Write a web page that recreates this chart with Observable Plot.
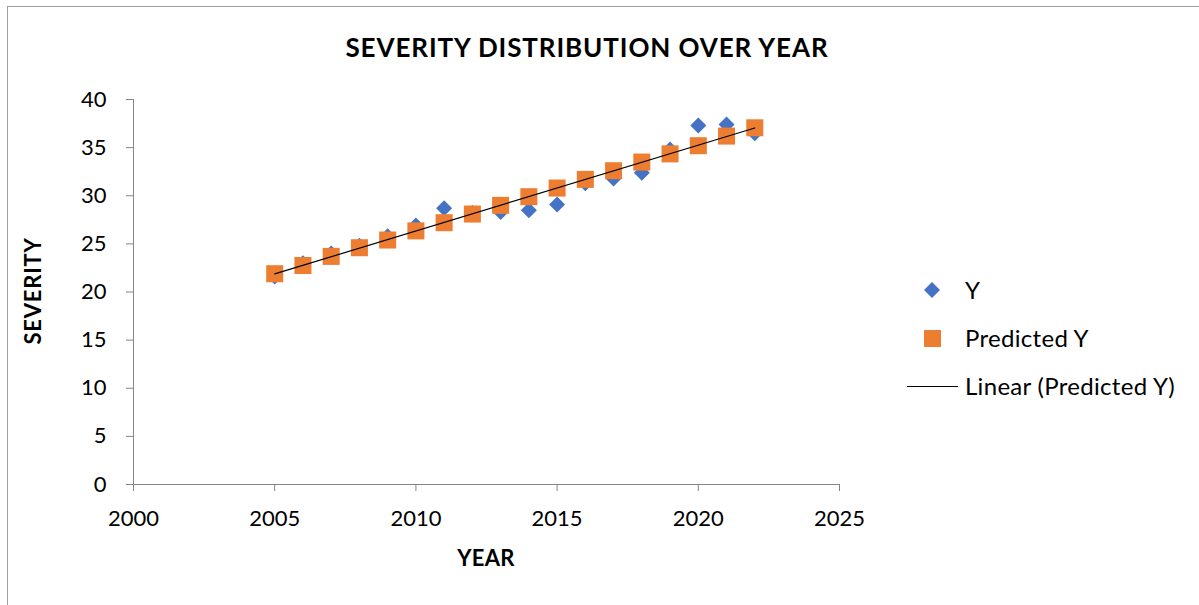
<!DOCTYPE html>
<html>
<head>
<meta charset="utf-8">
<script src="https://cdn.jsdelivr.net/npm/d3@7"></script>
<script src="https://cdn.jsdelivr.net/npm/@observablehq/plot@0.6"></script>
<style>
  html, body { margin: 0; padding: 0; background: #fff; }
  #wrap { position: relative; width: 1199px; height: 605px; overflow: hidden; font-family: Lato, "Open Sans", sans-serif; color: #000; }
  #frame { position: absolute; left: 7px; top: 6px; width: 1300px; height: 700px; border-left: 1px solid #a0a0a0; border-top: 1px solid #a0a0a0; }
  #chart { position: absolute; left: 0; top: 0; }
  .title { position: absolute; top: 30px; left: 133px; width: 908px; text-align: center; font-weight: bold; font-size: 26px; letter-spacing: 0.9px; line-height: 34px; }
  .xlab { position: absolute; top: 544px; left: 133px; width: 706px; text-align: center; font-weight: bold; font-size: 22px; letter-spacing: 0.3px; line-height: 28px; }
  .ylab { position: absolute; left: 33px; top: 291px; transform: translate(-50%, -50%) rotate(-90deg); font-weight: bold; font-size: 22px; letter-spacing: 0.8px; line-height: 28px; white-space: nowrap; }
  .leg { position: absolute; left: 905px; font-size: 24px; letter-spacing: 0.3px; line-height: 30px; white-space: nowrap; }
  .leg svg { position: absolute; left: 0; top: 0; }
  .leg span { position: absolute; left: 60px; top: 0; }
</style>
</head>
<body>
<div id="wrap">
  <div id="frame"></div>
  <div id="chart"></div>
  <div class="title">SEVERITY DISTRIBUTION OVER YEAR</div>
  <div class="xlab">YEAR</div>
  <div class="ylab">SEVERITY</div>
  <div class="leg" style="top:275px"><svg width="56" height="30"><path d="M27,7 L35,15 L27,23 L19,15 Z" fill="#4472C4"/></svg><span>Y</span></div>
  <div class="leg" style="top:323px"><svg width="56" height="30"><rect x="19" y="7" width="17" height="17" fill="#ED7D31"/></svg><span>Predicted Y</span></div>
  <div class="leg" style="top:371px"><svg width="56" height="30"><line x1="2" x2="53" y1="15.5" y2="15.5" stroke="#000" stroke-width="1"/></svg><span>Linear (Predicted Y)</span></div>
</div>
<script>
const years = [2005, 2006, 2007, 2008, 2009, 2010, 2011, 2012, 2013, 2014, 2015, 2016, 2017, 2018, 2019, 2020, 2021, 2022];
const actualY = [21.6, 23.0, 24.0, 24.8, 25.8, 26.9, 28.7, 28.2, 28.3, 28.5, 29.1, 31.3, 31.8, 32.4, 34.8, 37.3, 37.4, 36.5];
const predictedY = [21.9, 22.75, 23.7, 24.6, 25.4, 26.35, 27.2, 28.1, 29.0, 29.9, 30.8, 31.7, 32.6, 33.5, 34.35, 35.2, 36.2, 37.06];
const xTicks = [2000, 2005, 2010, 2015, 2020, 2025];
const yTicks = [0, 5, 10, 15, 20, 25, 30, 35, 40];

const data = years.map((yr, i) => ({year: yr, y: actualY[i], pred: predictedY[i]}));

const chart = Plot.plot({
  width: 1199,
  height: 605,
  marginLeft: 133,
  marginRight: 360,
  marginTop: 99,
  marginBottom: 121,
  style: {background: "transparent", fontFamily: "Lato, 'Open Sans', sans-serif", fontSize: "22px", color: "#000"},
  x: {domain: [2000, 2025]},
  y: {domain: [0, 40]},
  marks: [
    Plot.axisX({ticks: xTicks, tickFormat: d => String(d), tickSize: 7, tickPadding: 19, stroke: "#868686", fill: "#000", label: null, fontSize: 22}),
    Plot.axisY({ticks: yTicks, tickSize: 7, tickPadding: 20, stroke: "#868686", fill: "#000", label: null, fontSize: 22}),
    Plot.ruleY([0], {stroke: "#868686"}),
    Plot.ruleX([2000], {stroke: "#868686"}),
    Plot.dot(data, {x: "year", y: "y", symbol: "diamond2", r: 7.2, fill: "#4472C4", stroke: "none"}),
    Plot.dot(data, {x: "year", y: "pred", symbol: "square", r: 9.6, fill: "#ED7D31", stroke: "none"}),
    Plot.linearRegressionY(data, {x: "year", y: "pred", stroke: "#000", strokeWidth: 1.2, ci: 0})
  ]
});
document.getElementById("chart").appendChild(chart);
</script>
</body>
</html>
